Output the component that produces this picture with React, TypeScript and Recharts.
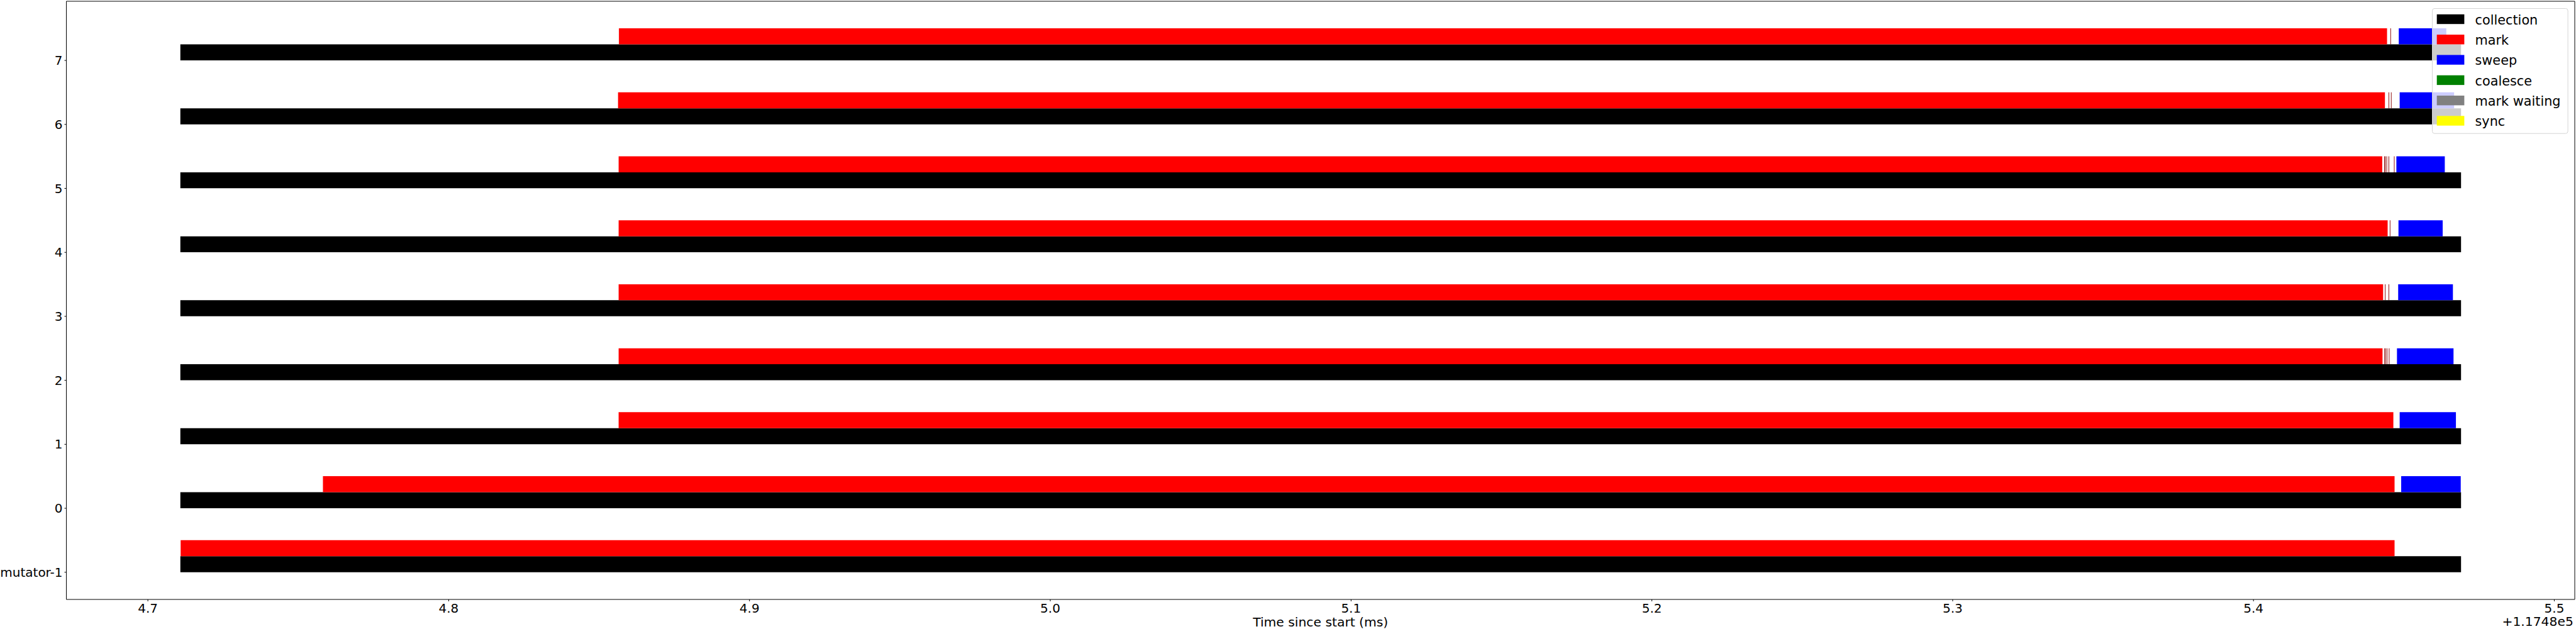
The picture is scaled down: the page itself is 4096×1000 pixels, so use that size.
import { BarChart, Bar, XAxis, YAxis, Legend, ReferenceArea } from "recharts";

// rows of the GC timeline, bottom to top
const rows = ["mutator-1", "0", "1", "2", "3", "4", "5", "6", "7"];
const rowPos = [-1, 0, 1, 2, 3, 4, 5, 6, 7];

// times in ms, axis offset +1.1748e5
const collectionStart = [4.7108, 4.7108, 4.7108, 4.7108, 4.7108, 4.7108, 4.7108, 4.7108, 4.7108];
const collectionEnd = [5.469, 5.469, 5.469, 5.469, 5.469, 5.469, 5.469, 5.469, 5.469];
const markStart = [4.7109, 4.7582, 4.8565, 4.8565, 4.8565, 4.8565, 4.8565, 4.8563, 4.8566];
const markEnd = [5.4469, 5.4469, 5.4465, 5.4429, 5.4431, 5.4446, 5.4428, 5.4437, 5.4444];
const sweepStart = [null, 5.4491, 5.4486, 5.4477, 5.4481, 5.4482, 5.4475, 5.4486, 5.4483];
const sweepEnd = [null, 5.4689, 5.4673, 5.4665, 5.4663, 5.4629, 5.4636, 5.4667, 5.4641];
// very short mark fragments right after the main mark phase
const markSlivers: number[][][] = [
  [],
  [],
  [],
  [[5.4435, 5.4437], [5.4438, 5.444], [5.4443, 5.4445], [5.445, 5.4452]],
  [[5.4437, 5.4439], [5.4449, 5.4451]],
  [[5.4453, 5.4455]],
  [[5.4435, 5.4437], [5.4437, 5.4439], [5.4442, 5.4444], [5.4449, 5.4451], [5.4467, 5.4469]],
  [[5.4449, 5.4451], [5.4457, 5.4459]],
  [[5.4455, 5.4457]],
];

const xTicks = [4.7, 4.8, 4.9, 5.0, 5.1, 5.2, 5.3, 5.4, 5.5];
const xMin = 4.6729;
const xMax = 5.5068;
const yMin = -1.425;
const yMax = 7.925;

const legendLabels = ["collection", "mark", "sweep", "coalesce", "mark waiting", "sync"];
const legendColors = ["#000000", "#ff0000", "#0000ff", "#008000", "#808080", "#ffff00"];

const CHART_W = 4096;
const CHART_H = 1000;
const MARGIN = { top: 2, right: 2, bottom: 0, left: 0 };
const Y_AXIS_W = 105.5;
const X_AXIS_H = 47;
const FONT = "DejaVu Sans";

// bar lanes: collection sits on the row line, the phases right above it
const LANE = 0.25;
const plotH = CHART_H - MARGIN.top - MARGIN.bottom - X_AXIS_H;
const unit = plotH / (yMax - yMin);
const laneSize = unit * LANE;

function lanePadding(center: number) {
  return {
    bottom: (rowPos[0] + center - 0.5 - yMin) * unit,
    top: (yMax - (rowPos[rowPos.length - 1] + center + 0.5)) * unit,
  };
}

const SLIVERS = [0, 1, 2, 3, 4];

const data = rows.map((row, i) => {
  const entry: Record<string, any> = {
    row,
    pos: rowPos[i],
    collection: [collectionStart[i], collectionEnd[i]],
    mark: [markStart[i], markEnd[i]],
    sweep: sweepStart[i] == null ? null : [sweepStart[i], sweepEnd[i]],
  };
  SLIVERS.forEach((k) => {
    entry[`sliver${k}`] = markSlivers[i][k] ?? null;
  });
  return entry;
});

const tickStyle = { fontSize: 20, fill: "#000", fontFamily: FONT };

function GcLegend() {
  return (
    <svg width={217} height={200} style={{ display: "block" }}>
      <rect
        x={0.5}
        y={0.5}
        width={215.6}
        height={198.7}
        rx={3.5}
        fill="#fff"
        fillOpacity={0.8}
        stroke="#d4d4d4"
      />
      {legendLabels.map((name, i) => (
        <g key={name}>
          <rect x={7.7} y={9.8 + i * 32.3} width={43.7} height={15.4} fill={legendColors[i]} />
          <text x={68.5} y={25.7 + i * 32.3} fontSize={20.8} fontFamily={FONT} fill="#000">
            {name}
          </text>
        </g>
      ))}
    </svg>
  );
}

function XLabel(props: any) {
  const { x, y, width } = props.viewBox;
  return (
    <g fontFamily={FONT} fontSize={20.3} fill="#000">
      <text x={x + width / 2} y={y + 42.5} textAnchor="middle">
        Time since start (ms)
      </text>
      <text x={x + width - 2.2} y={y + 42} textAnchor="end">
        +1.1748e5
      </text>
    </g>
  );
}

export default function App() {
  const low = lanePadding(LANE / 2);
  const up = lanePadding(LANE * 1.5);
  return (
    <div style={{ position: "absolute", left: 0, top: 0, background: "#fff" }}>
      <BarChart
        width={CHART_W}
        height={CHART_H}
        data={data}
        layout="vertical"
        margin={MARGIN}
        barSize={laneSize}
        barGap={-laneSize}
      >
        <XAxis
          type="number"
          domain={[xMin, xMax]}
          allowDataOverflow
          ticks={xTicks}
          interval={0}
          tickFormatter={(v: number) => v.toFixed(1)}
          height={X_AXIS_H}
          tickSize={3}
          tickMargin={3.5}
          tick={tickStyle}
          tickLine={{ stroke: "#000" }}
          axisLine={false}
          label={(p: any) => <XLabel {...p} />}
        />
        <YAxis
          yAxisId="num"
          type="number"
          scale="linear"
          dataKey="pos"
          domain={[yMin, yMax]}
          allowDataOverflow
          reversed
          ticks={rowPos}
          interval={0}
          tickFormatter={(v: number) => rows[rowPos.indexOf(v)]}
          width={Y_AXIS_W}
          tickSize={3}
          tickMargin={3}
          tick={tickStyle}
          tickLine={{ stroke: "#000" }}
          axisLine={false}
        />
        <YAxis yAxisId="low" type="category" dataKey="row" hide width={0} reversed padding={low} />
        <YAxis yAxisId="up" type="category" dataKey="row" hide width={0} reversed padding={up} />

        <Bar yAxisId="low" dataKey="collection" fill="#000000" isAnimationActive={false} />
        <Bar yAxisId="up" dataKey="mark" fill="#ff0000" isAnimationActive={false} />
        {SLIVERS.map((k) => (
          <Bar
            key={k}
            yAxisId="up"
            dataKey={`sliver${k}`}
            fill="#8b0000"
            isAnimationActive={false}
          />
        ))}
        <Bar yAxisId="up" dataKey="sweep" fill="#0000ff" isAnimationActive={false} />

        <ReferenceArea
          yAxisId="num"
          x1={xMin}
          x2={xMax}
          y1={yMin}
          y2={yMax}
          fill="none"
          stroke="#000"
          strokeWidth={1}
          ifOverflow="visible"
        />
        <Legend
          layout="vertical"
          align="center"
          verticalAlign="middle"
          content={() => <GcLegend />}
          wrapperStyle={{ left: 3867, top: 12.9, width: 217, height: 200 }}
        />
      </BarChart>
    </div>
  );
}
